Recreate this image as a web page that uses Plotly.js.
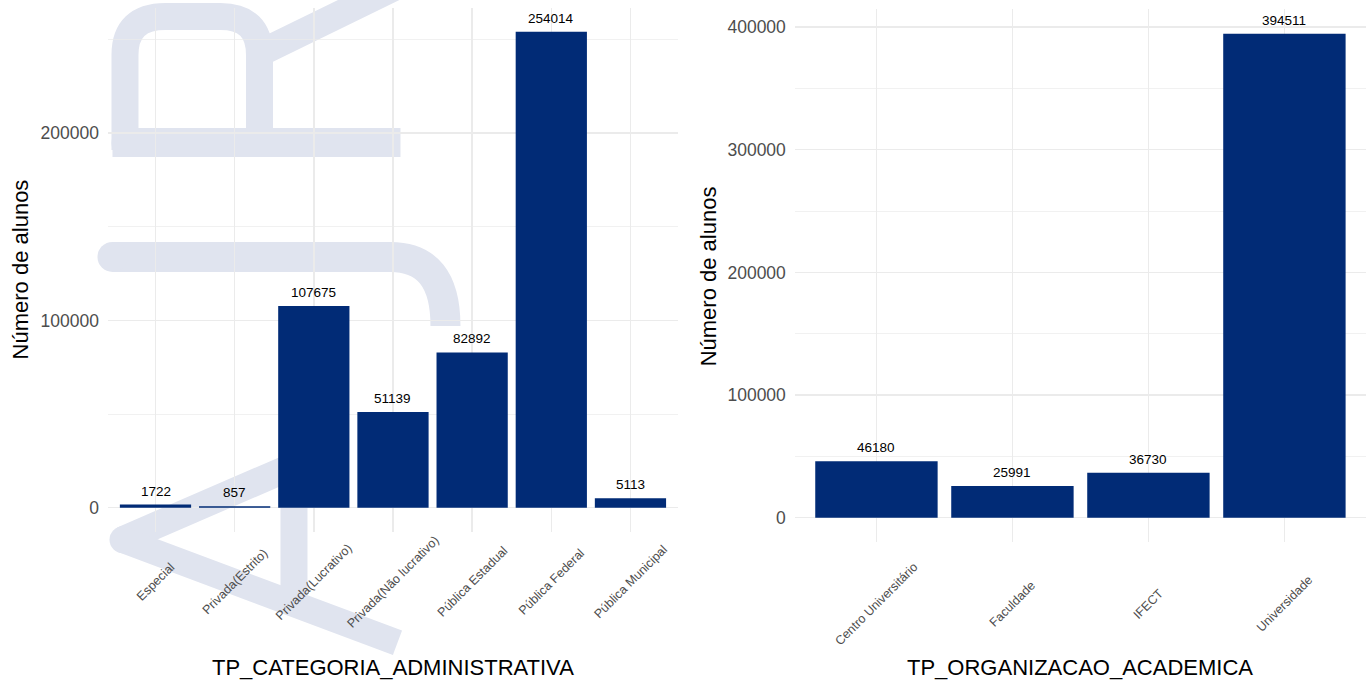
<!DOCTYPE html>
<html><head><meta charset="utf-8">
<script src="https://cdn.plot.ly/plotly-3.0.1.min.js"></script>
<style>html,body{margin:0;padding:0;background:#fff}#chart{width:1372px;height:683px}</style>
</head><body><div id="chart"></div>
<script>
// ---- data ----
const categoriasAdm = ['Especial','Privada(Estrito)','Privada(Lucrativo)','Privada(Não lucrativo)','Pública Estadual','Pública Federal','Pública Municipal'];
const alunosAdm = [1722, 857, 107675, 51139, 82892, 254014, 5113];
const categoriasOrg = ['Centro Universitário','Faculdade','IFECT','Universidade'];
const alunosOrg = [46180, 25991, 36730, 394511];
const tituloXAdm = 'TP_CATEGORIA_ADMINISTRATIVA';
const tituloXOrg = 'TP_ORGANIZACAO_ACADEMICA';
const tituloY = 'Número de alunos';

// ---- layout geometry (pixels) ----
const W = 1372, H = 683;
const ml = 107.5, mr = 6.4, mt = 8, mb = 140.8;
const pw = W - ml - mr, ph = H - mt - mb;
const px = x => (x - ml) / pw;
const py = y => (H - mb - y) / ph;

const FONT = 'Liberation Sans, Arial, Helvetica, sans-serif';
const BAR = '#012b76';
const GRID = '#ebebeb';
const WM = '#e0e4ef';

function expandRange(vals){ const m = Math.max(...vals); return [-0.05*m, 1.05*m]; }

const traces = [
  {type:'bar', x:categoriasAdm, y:alunosAdm, xaxis:'x', yaxis:'y', marker:{color:BAR}, hoverinfo:'x+y', showlegend:false},
  {type:'bar', x:categoriasOrg, y:alunosOrg, xaxis:'x2', yaxis:'y2', marker:{color:BAR}, hoverinfo:'x+y', showlegend:false}
];

function yax(domain, vals){
  return {domain:domain, range:expandRange(vals), tickmode:'linear', tick0:0, dtick:100000, tickformat:'d',
    showgrid:true, gridcolor:GRID, gridwidth:1.4, zeroline:false, showline:false, ticks:'',
    ticklabelstandoff:8, tickfont:{family:FONT, size:17.5, color:'#4d4d4d'},
    minor:{dtick:50000, tick0:0, showgrid:true, gridcolor:GRID, gridwidth:0.7, ticks:''},
    fixedrange:true};
}
function xax(domain, cats, anchor){
  return {domain:domain, type:'category', range:[-0.6, cats.length-0.4], anchor:anchor,
    showgrid:true, gridcolor:GRID, gridwidth:1.4, zeroline:false, showline:false, ticks:'',
    showticklabels:false, fixedrange:true};
}

const annotations = [];
function addPanelText(cats, vals, xr, yr, tickCenterY){
  cats.forEach((c,i)=>{
    annotations.push({x:c, y:vals[i], xref:xr, yref:yr, text:String(vals[i]), showarrow:false,
      xanchor:'center', yanchor:'middle', yshift:13.5, font:{family:FONT, size:13.5, color:'#000'}});
    annotations.push({x:c, y:py(tickCenterY), xref:xr, yref:'paper', text:c, showarrow:false,
      textangle:-45, xanchor:'center', yanchor:'middle', font:{family:FONT, size:12.5, color:'#4d4d4d'}});
  });
}
addPanelText(categoriasAdm, alunosAdm, 'x', 'y', 582);
addPanelText(categoriasOrg, alunosOrg, 'x2', 'y2', 604);
const TF = {family:FONT, size:22, color:'#000'};
annotations.push({x:px(392.5), y:py(668), xref:'paper', yref:'paper', text:tituloXAdm, showarrow:false, xanchor:'center', yanchor:'middle', font:TF});
annotations.push({x:px(1080), y:py(668), xref:'paper', yref:'paper', text:tituloXOrg, showarrow:false, xanchor:'center', yanchor:'middle', font:TF});
annotations.push({x:px(20), y:py(270), xref:'paper', yref:'paper', text:tituloY, textangle:-90, showarrow:false, xanchor:'center', yanchor:'middle', font:TF});
annotations.push({x:px(708), y:py(276), xref:'paper', yref:'paper', text:tituloY, textangle:-90, showarrow:false, xanchor:'center', yanchor:'middle', font:TF});

// ---- watermark (decorative logo behind left panel) ----
function pth(spec){
  return spec.replace(/(-?\d+(?:\.\d+)?),(-?\d+(?:\.\d+)?)/g, (m,a,b)=> px(+a).toFixed(5)+','+py(+b).toFixed(5));
}
const wmStrokes = [
  ['M 124.5,150 L 124.5,55 Q 124.5,16.5 165,16.5 L 220,16.5 Q 259,16.5 259,55 L 259,142.5', 27],
  ['M 112,142.5 L 400,142.5', 29],
  ['M 262,52 L 405,-18', 27],
  ['M 112,257 L 390,257 Q 445,257 445,326', 30],
  ['M 122,540 L 300,463', 27],
  ['M 122,540 L 397,643', 26],
  ['M 293.5,470 L 293.5,600', 27]
];
const shapes = wmStrokes.map(([d,w])=>({type:'path', xref:'paper', yref:'paper', layer:'below', path:pth(d), line:{color:WM, width:w}}));
shapes.push({type:'circle', xref:'paper', yref:'paper', layer:'below', x0:px(109), x1:px(136), y0:py(553.5), y1:py(526.5), fillcolor:WM, line:{width:0}});
shapes.push({type:'circle', xref:'paper', yref:'paper', layer:'below', x0:px(111), x1:px(138), y0:py(157), y1:py(129), fillcolor:WM, line:{width:0}});
shapes.push({type:'circle', xref:'paper', yref:'paper', layer:'below', x0:px(97), x1:px(127), y0:py(272), y1:py(242), fillcolor:WM, line:{width:0}});

const layout = {
  width:W, height:H, margin:{l:ml, r:mr, t:mt, b:mb, pad:0}, autosize:false,
  paper_bgcolor:'#ffffff', plot_bgcolor:'rgba(0,0,0,0)',
  bargap:0.1, showlegend:false, font:{family:FONT},
  xaxis: xax([0, px(677.5)], categoriasAdm, 'y'),
  yaxis: yax([py(531.8), 1], alunosAdm),
  xaxis2: xax([px(794.4), 1], categoriasOrg, 'y2'),
  yaxis2: Object.assign(yax([0, py(9.5)], alunosOrg), {anchor:'x2'}),
  annotations: annotations,
  shapes: shapes
};
layout.yaxis.anchor = 'x';
Plotly.newPlot('chart', traces, layout, {displayModeBar:false, staticPlot:true});
</script>
</body></html>
